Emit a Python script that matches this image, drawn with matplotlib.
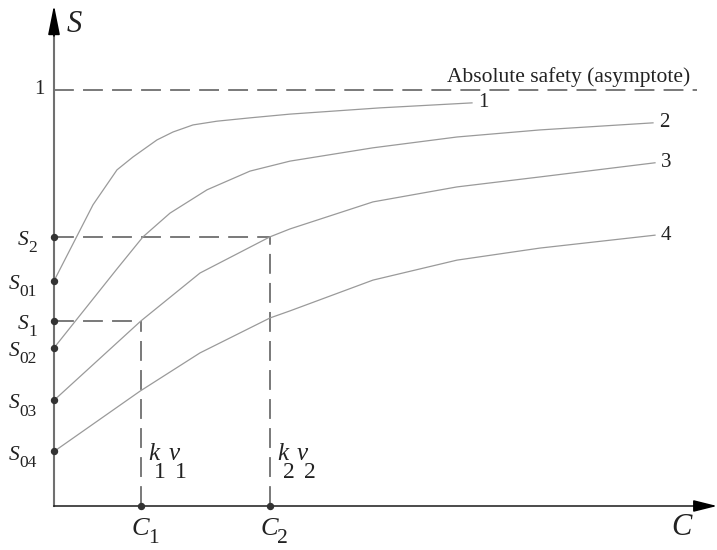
import numpy as np
import matplotlib
matplotlib.use("Agg")
import matplotlib.pyplot as plt

plt.rcParams['font.family'] = ['Liberation Serif', 'DejaVu Serif']

# Curves S(C)
curve1_c = [0, 0.39, 0.63, 0.79, 1.03, 1.19, 1.39, 1.63, 1.96, 2.36, 3.26, 4.18]
curve1_s = [0.541, 0.724, 0.808, 0.839, 0.880, 0.899, 0.916, 0.925, 0.933, 0.942, 0.957, 0.969]

curve2_c = [0, 0.63, 0.89, 1.16, 1.53, 1.96, 2.36, 3.19, 4.03, 4.86, 5.99]
curve2_s = [0.380, 0.570, 0.647, 0.704, 0.760, 0.805, 0.829, 0.861, 0.887, 0.904, 0.921]

curve3_c = [0, 0.87, 1.46, 2.16, 2.36, 3.19, 4.03, 4.86, 6.01]
curve3_s = [0.254, 0.445, 0.560, 0.647, 0.666, 0.731, 0.767, 0.791, 0.825]

curve4_c = [0, 0.86, 1.46, 2.16, 2.36, 3.19, 4.03, 4.86, 6.01]
curve4_s = [0.131, 0.276, 0.368, 0.452, 0.469, 0.543, 0.591, 0.620, 0.651]

curve_names = ['1', '2', '3', '4']

# Marked levels on the S axis
s_points = [0.647, 0.541, 0.445, 0.380, 0.254, 0.131]
s_subs = ['2', '01', '1', '02', '03', '04']

# Points on the C axis
c_points = [0.87, 2.16]
c_subs = ['1', '2']
s_at_c = [0.445, 0.647]

asymptote = 1.0

fig = plt.figure(figsize=(7.17, 5.5), dpi=100)
ax = fig.add_axes([0, 0, 1, 1])
ax.set_xlim(-0.54, 6.63)
ax.set_ylim(-0.1058, 1.2163)
ax.axis('off')

curve_col = '#9a9a9a'
dash_col = '#555555'
txt_col = '#222222'


def sub_left(x, y, main, sub, size, sub_size, drop, gap=0):
    # italic letter with a lowered upright subscript, anchored at left
    t = ax.text(x, y, main, fontsize=size, style='italic', ha='left', va='baseline', color=txt_col)
    s = ax.annotate(sub, xy=(1, 0), xycoords=t, xytext=(gap, -drop), textcoords='offset points',
                    fontsize=sub_size, ha='left', va='bottom', color=txt_col)
    return s


def sub_right(x, y, main, sub, size, sub_size, drop, gap=0):
    # same, anchored at the right end of the subscript
    s = ax.annotate(sub, xy=(x, y), xytext=(0, -drop), textcoords='offset points',
                    fontsize=sub_size, ha='right', va='baseline', color=txt_col)
    ax.annotate(main, xy=(0, 0), xycoords=s, xytext=(-gap, drop), textcoords='offset points',
                fontsize=size, style='italic', ha='right', va='bottom', color=txt_col)


# curves
curves = [(curve1_c, curve1_s), (curve2_c, curve2_s), (curve3_c, curve3_s), (curve4_c, curve4_s)]
for (cx, cy), name in zip(curves, curve_names):
    ax.plot(cx, cy, color=curve_col, lw=0.9, zorder=2)
    ax.text(cx[-1] + 0.06, cy[-1], name, fontsize=15, ha='left', va='center', color=txt_col)

# asymptote
ax.plot([0, 6.43], [asymptote, asymptote], color=dash_col, lw=1.1, ls=(0, (13, 6)), zorder=1)
ax.text(3.93, 1.019, 'Absolute safety (asymptote)', fontsize=15.5, ha='left', va='baseline', color=txt_col)
ax.text(-0.09, asymptote, '1', fontsize=15, ha='right', va='center', color=txt_col)

# guides to C1, C2
for c, s in zip(c_points, s_at_c):
    ax.plot([0, c], [s, s], color=dash_col, lw=1.1, ls=(0, (13, 6)), zorder=1)
    ax.plot([c, c], [0, s], color=dash_col, lw=1.1, ls=(0, (13, 6)), zorder=1)

# axes
ax.plot([0, 0], [0, 1.15], color='#707070', lw=1.5, zorder=3)
ax.annotate('', xy=(0, 1.204), xytext=(0, 1.13),
            arrowprops=dict(arrowstyle='-|>,head_length=1.8,head_width=0.36', mutation_scale=10,
                            color='black', lw=1.2, shrinkA=0, shrinkB=0))
ax.plot([0, 6.45], [0, 0], color='#1a1a1a', lw=1.1, zorder=3)
ax.annotate('', xy=(6.63, 0), xytext=(6.40, 0),
            arrowprops=dict(arrowstyle='-|>,head_length=1.44,head_width=0.36', mutation_scale=10,
                            color='black', lw=1.1, shrinkA=0, shrinkB=0))

# dots and labels on S axis
ax.plot(np.zeros(len(s_points)), s_points, 'o', color='#333333', ms=4.3, zorder=4)
for s, sub in zip(s_points, s_subs):
    sub_right(-0.17, s - 0.022, 'S', sub, 15.5, 12.5, 4.5)

# dots and labels on C axis
ax.plot(c_points, np.zeros(len(c_points)), 'o', color='#333333', ms=4.3, zorder=4)
for c, sub in zip(c_points, c_subs):
    sub_left(c - 0.09, -0.0697, 'C', sub, 19, 15.5, 5.5, gap=-1)
    k1 = sub_left(c + 0.07, 0.1106, 'k', sub, 18, 17, 13, gap=-4)
    v = ax.annotate('v', xy=(1, 0), xycoords=k1, xytext=(2, 13), textcoords='offset points',
                    fontsize=18, style='italic', ha='left', va='bottom', color=txt_col)
    ax.annotate(sub, xy=(1, 0), xycoords=v, xytext=(-3, -13), textcoords='offset points',
                fontsize=17, ha='left', va='bottom', color=txt_col)

ax.text(0.13, 1.139, 'S', fontsize=22, style='italic', ha='left', va='baseline', color=txt_col)
ax.text(6.27, -0.070, 'C', fontsize=22, style='italic', ha='center', va='baseline', color=txt_col)

fig.savefig('out.png', dpi=100, facecolor='white')
